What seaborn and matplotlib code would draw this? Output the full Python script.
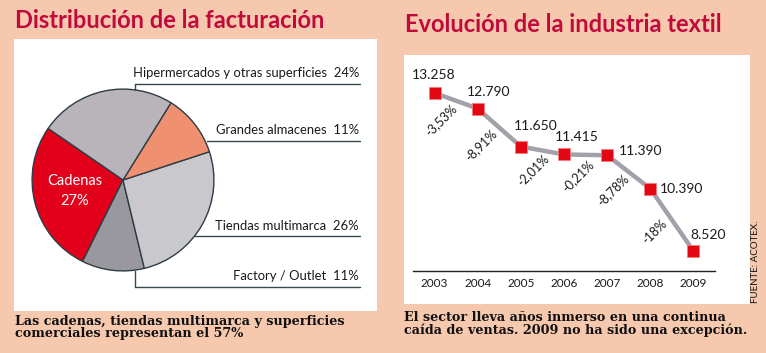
import numpy as np
import pandas as pd
import seaborn as sns
import matplotlib.pyplot as plt
from matplotlib.patches import Rectangle

# data
segmentos = ['Cadenas', 'Factory / Outlet', 'Tiendas multimarca', 'Grandes almacenes',
             'Hipermercados y otras superficies']
cuotas = [27, 11, 26, 11, 24]
colores_pie = ['#e2001a', '#9a989f', '#c9c8cd', '#ef9170', '#b9b4b9']

anios = ['2003', '2004', '2005', '2006', '2007', '2008', '2009']
ventas = [13258, 12790, 11650, 11415, 11390, 10390, 8520]
etiquetas_ventas = ['13.258', '12.790', '11.650', '11.415', '11.390', '10.390', '8.520']
variaciones = ['-3,53%', '-8,91%', '-2,01%', '-0,21%', '-8,78%', '-18%']

sns.set_theme(style='white')
plt.rcParams['font.family'] = ['Lato', 'DejaVu Sans']

PEACH = '#f6c8ae'
TITLE_RED = '#c10a3c'
LINE_DARK = '#34484f'

fig = plt.figure(figsize=(7.66, 3.53), dpi=100, facecolor=PEACH)

# background layer in pixel coords
bg = fig.add_axes([0, 0, 1, 1])
bg.set_xlim(0, 766)
bg.set_ylim(353, 0)
bg.axis('off')
bg.add_patch(Rectangle((14, 39), 363, 272, facecolor='white', edgecolor='none'))
bg.add_patch(Rectangle((404, 55), 346, 249, facecolor='white', edgecolor='none'))

# pie
ax_pie = fig.add_axes([(123 - 100) / 766, (353 - 180 - 100) / 353, 200 / 766, 200 / 353])
ax_pie.pie(cuotas, colors=colores_pie, startangle=145.4, counterclock=True,
           wedgeprops=dict(edgecolor='#2e3d44', linewidth=1))
ax_pie.set_xlim(-1.1, 1.1)
ax_pie.set_ylim(-1.1, 1.1)
ax_pie.set_facecolor('none')
ax_pie.axis('off')

# line chart
df = pd.DataFrame({'idx': np.arange(len(anios)), 'ventas': ventas})
ax = fig.add_axes([413 / 766, (353 - 271) / 353, 302 / 766, 216 / 353])
sns.lineplot(data=df, x='idx', y='ventas', ax=ax, color='#a2a0a8', lw=3.2,
             marker='s', markersize=8, markerfacecolor='#e30613',
             markeredgecolor='#f07c7c', markeredgewidth=0.6)
ax.set_xlim(-0.5, 6.5)
ax.set_ylim(7920, 14397)
ax.set_facecolor('none')
for s in ['top', 'left', 'right']:
    ax.spines[s].set_visible(False)
ax.spines['bottom'].set_color('#222')
ax.spines['bottom'].set_linewidth(1)
ax.set_yticks([])
ax.set_xticks(df['idx'])
ax.set_xticklabels(anios, fontsize=8.5, color='#1a1a1a')
ax.set_xticks(np.arange(-0.5, 7, 1), minor=True)
ax.tick_params(axis='x', which='major', length=0, pad=5)
ax.tick_params(axis='x', which='minor', length=4, width=1, color='#222', direction='out')
ax.set_xlabel('')
ax.set_ylabel('')

val_off = [(-1, 18), (11, 17), (15, 21), (13, 17), (33, 4), (31, 0), (15, 16)]
for i, (lab, off) in enumerate(zip(etiquetas_ventas, val_off)):
    ax.annotate(lab, (i, ventas[i]), xytext=off, textcoords='offset pixels',
                ha='center', va='center', fontsize=10, color='#1a1a1a')

var_off = [(-15, -19), (-18, -17), (-10, -20), (-8, -21), (-16, -18), (-17, -12)]
for i, (lab, off) in enumerate(zip(variaciones, var_off)):
    xm = i + 0.5
    ym = (ventas[i] + ventas[i + 1]) / 2
    ax.annotate(lab, (xm, ym), xytext=off, textcoords='offset pixels', rotation=45,
                ha='center', va='center', fontsize=9, color='#1a1a1a',
                rotation_mode='anchor')

# foreground text layer
fg = fig.add_axes([0, 0, 1, 1])
fg.set_xlim(0, 766)
fg.set_ylim(353, 0)
fg.axis('off')
fg.patch.set_alpha(0)

fg.text(15, 28, 'Distribución de la facturación', color=TITLE_RED, fontsize=17,
        fontweight='bold', va='baseline')
fg.text(405, 32, 'Evolución de la industria textil', color=TITLE_RED, fontsize=17,
        fontweight='bold', va='baseline')

serif = ['DejaVu Serif']
fg.text(15, 325, 'Las cadenas, tiendas multimarca y superficies', family=serif,
        fontsize=9.2, fontweight='bold', color='#111', va='baseline')
fg.text(15, 337, 'comerciales representan el 57%', family=serif,
        fontsize=9.2, fontweight='bold', color='#111', va='baseline')
fg.text(404, 321, 'El sector lleva años inmerso en una continua', family=serif,
        fontsize=9.2, fontweight='bold', color='#111', va='baseline')
fg.text(404, 334, 'caída de ventas. 2009 no ha sido una excepción.', family=serif,
        fontsize=9.2, fontweight='bold', color='#111', va='baseline')
fg.text(756, 303, 'FUENTE: ACOTEX.', rotation=90, fontsize=7, color='#111',
        ha='center', va='bottom')

# pie labels with leader lines
pie_labels = [('Hipermercados y otras superficies  24%', 77, 84, 135),
              ('Grandes almacenes  11%', 134, 141, 207),
              ('Tiendas multimarca  26%', 230, 236, 194),
              ('Factory / Outlet  11%', 280, 287, 135)]
for txt, yb, yl, x0 in pie_labels:
    fg.text(359, yb, txt, ha='right', va='baseline', fontsize=9.4, color='#1a1a1a')
    fg.plot([x0, 360], [yl, yl], color=LINE_DARK, lw=1)
fg.plot([135, 135], [84, 90], color=LINE_DARK, lw=1)
fg.plot([135, 135], [271, 287], color=LINE_DARK, lw=1)
fg.text(75, 181, 'Cadenas', color='white', fontsize=10.5, ha='center', va='center')
fg.text(75, 201, '27%', color='white', fontsize=10.5, ha='center', va='center')

fig.savefig('out.png', dpi=100, facecolor=PEACH)
